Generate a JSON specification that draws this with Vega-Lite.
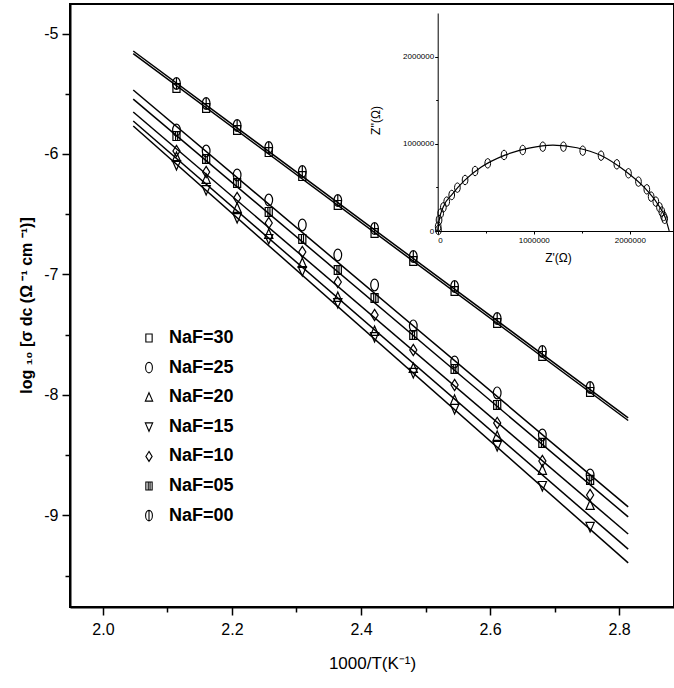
{
  "$schema": "https://vega.github.io/schema/vega-lite/v6.json",
  "width": 604,
  "height": 603,
  "autosize": {"type": "none"},
  "padding": {"left": 70, "top": 4, "right": 0, "bottom": 81},
  "background": "white",
  "config": {
    "font": "Liberation Sans",
    "view": {"stroke": "#000", "strokeWidth": 2},
    "axis": {"grid": false, "domainColor": "#000", "tickColor": "#000", "labelColor": "#000", "titleColor": "#000"}
  },
  "datasets": {
    "pts": [
      {"x": 2.114, "y": -5.415, "series": "NaF=00"}, {"x": 2.160, "y": -5.581, "series": "NaF=00"}, {"x": 2.208, "y": -5.764, "series": "NaF=00"}, {"x": 2.257, "y": -5.947, "series": "NaF=00"}, {"x": 2.309, "y": -6.146, "series": "NaF=00"}, {"x": 2.364, "y": -6.386, "series": "NaF=00"}, {"x": 2.421, "y": -6.619, "series": "NaF=00"}, {"x": 2.481, "y": -6.851, "series": "NaF=00"}, {"x": 2.545, "y": -7.100, "series": "NaF=00"}, {"x": 2.611, "y": -7.366, "series": "NaF=00"}, {"x": 2.681, "y": -7.639, "series": "NaF=00"}, {"x": 2.755, "y": -7.938, "series": "NaF=00"},
      {"x": 2.114, "y": -5.452, "series": "NaF=30"}, {"x": 2.160, "y": -5.618, "series": "NaF=30"}, {"x": 2.208, "y": -5.801, "series": "NaF=30"}, {"x": 2.257, "y": -5.984, "series": "NaF=30"}, {"x": 2.309, "y": -6.183, "series": "NaF=30"}, {"x": 2.364, "y": -6.423, "series": "NaF=30"}, {"x": 2.421, "y": -6.656, "series": "NaF=30"}, {"x": 2.481, "y": -6.888, "series": "NaF=30"}, {"x": 2.545, "y": -7.137, "series": "NaF=30"}, {"x": 2.611, "y": -7.403, "series": "NaF=30"}, {"x": 2.681, "y": -7.676, "series": "NaF=30"}, {"x": 2.755, "y": -7.975, "series": "NaF=30"},
      {"x": 2.114, "y": -5.801, "series": "NaF=25"}, {"x": 2.160, "y": -5.975, "series": "NaF=25"}, {"x": 2.208, "y": -6.174, "series": "NaF=25"}, {"x": 2.257, "y": -6.382, "series": "NaF=25"}, {"x": 2.309, "y": -6.589, "series": "NaF=25"}, {"x": 2.364, "y": -6.838, "series": "NaF=25"}, {"x": 2.421, "y": -7.087, "series": "NaF=25"}, {"x": 2.481, "y": -7.427, "series": "NaF=25"}, {"x": 2.545, "y": -7.726, "series": "NaF=25"}, {"x": 2.611, "y": -7.983, "series": "NaF=25"}, {"x": 2.681, "y": -8.332, "series": "NaF=25"}, {"x": 2.755, "y": -8.664, "series": "NaF=25"},
      {"x": 2.114, "y": -5.851, "series": "NaF=05"}, {"x": 2.160, "y": -6.041, "series": "NaF=05"}, {"x": 2.208, "y": -6.241, "series": "NaF=05"}, {"x": 2.257, "y": -6.481, "series": "NaF=05"}, {"x": 2.309, "y": -6.705, "series": "NaF=05"}, {"x": 2.364, "y": -6.963, "series": "NaF=05"}, {"x": 2.421, "y": -7.195, "series": "NaF=05"}, {"x": 2.481, "y": -7.502, "series": "NaF=05"}, {"x": 2.545, "y": -7.784, "series": "NaF=05"}, {"x": 2.611, "y": -8.083, "series": "NaF=05"}, {"x": 2.681, "y": -8.398, "series": "NaF=05"}, {"x": 2.755, "y": -8.705, "series": "NaF=05"},
      {"x": 2.114, "y": -5.975, "series": "NaF=10"}, {"x": 2.160, "y": -6.149, "series": "NaF=10"}, {"x": 2.208, "y": -6.365, "series": "NaF=10"}, {"x": 2.257, "y": -6.573, "series": "NaF=10"}, {"x": 2.309, "y": -6.813, "series": "NaF=10"}, {"x": 2.364, "y": -7.062, "series": "NaF=10"}, {"x": 2.421, "y": -7.336, "series": "NaF=10"}, {"x": 2.481, "y": -7.627, "series": "NaF=10"}, {"x": 2.545, "y": -7.917, "series": "NaF=10"}, {"x": 2.611, "y": -8.232, "series": "NaF=10"}, {"x": 2.681, "y": -8.548, "series": "NaF=10"}, {"x": 2.755, "y": -8.830, "series": "NaF=10"},
      {"x": 2.114, "y": -6.025, "series": "NaF=20"}, {"x": 2.160, "y": -6.207, "series": "NaF=20"}, {"x": 2.208, "y": -6.448, "series": "NaF=20"}, {"x": 2.257, "y": -6.664, "series": "NaF=20"}, {"x": 2.309, "y": -6.905, "series": "NaF=20"}, {"x": 2.364, "y": -7.187, "series": "NaF=20"}, {"x": 2.421, "y": -7.469, "series": "NaF=20"}, {"x": 2.481, "y": -7.776, "series": "NaF=20"}, {"x": 2.545, "y": -8.041, "series": "NaF=20"}, {"x": 2.611, "y": -8.340, "series": "NaF=20"}, {"x": 2.681, "y": -8.622, "series": "NaF=20"}, {"x": 2.755, "y": -8.913, "series": "NaF=20"},
      {"x": 2.114, "y": -6.091, "series": "NaF=15"}, {"x": 2.160, "y": -6.299, "series": "NaF=15"}, {"x": 2.208, "y": -6.531, "series": "NaF=15"}, {"x": 2.257, "y": -6.705, "series": "NaF=15"}, {"x": 2.309, "y": -6.971, "series": "NaF=15"}, {"x": 2.364, "y": -7.237, "series": "NaF=15"}, {"x": 2.421, "y": -7.519, "series": "NaF=15"}, {"x": 2.481, "y": -7.817, "series": "NaF=15"}, {"x": 2.545, "y": -8.116, "series": "NaF=15"}, {"x": 2.611, "y": -8.423, "series": "NaF=15"}, {"x": 2.681, "y": -8.755, "series": "NaF=15"}, {"x": 2.755, "y": -9.095, "series": "NaF=15"}
    ],
    "fits": [
      {"x": 2.047, "y": -5.145, "series": "NaF=00"}, {"x": 2.814, "y": -8.190, "series": "NaF=00"},
      {"x": 2.047, "y": -5.167, "series": "NaF=30"}, {"x": 2.814, "y": -8.212, "series": "NaF=30"},
      {"x": 2.047, "y": -5.469, "series": "NaF=25"}, {"x": 2.814, "y": -8.929, "series": "NaF=25"},
      {"x": 2.047, "y": -5.544, "series": "NaF=05"}, {"x": 2.814, "y": -9.012, "series": "NaF=05"},
      {"x": 2.047, "y": -5.651, "series": "NaF=10"}, {"x": 2.814, "y": -9.154, "series": "NaF=10"},
      {"x": 2.047, "y": -5.726, "series": "NaF=20"}, {"x": 2.814, "y": -9.280, "series": "NaF=20"},
      {"x": 2.047, "y": -5.768, "series": "NaF=15"}, {"x": 2.814, "y": -9.394, "series": "NaF=15"}
    ],
    "imp": [
      {"zr": 8000, "zi": 12000}, {"zr": 5000, "zi": 50000}, {"zr": 14000, "zi": 126000}, {"zr": 31000, "zi": 203000}, {"zr": 59000, "zi": 272000}, {"zr": 94000, "zi": 337000}, {"zr": 146000, "zi": 413000}, {"zr": 205000, "zi": 497000}, {"zr": 285000, "zi": 585000}, {"zr": 389000, "zi": 688000}, {"zr": 521000, "zi": 776000}, {"zr": 691000, "zi": 872000}, {"zr": 885000, "zi": 929000}, {"zr": 1094000, "zi": 967000}, {"zr": 1309000, "zi": 967000}, {"zr": 1510000, "zi": 921000}, {"zr": 1701000, "zi": 864000}, {"zr": 1865000, "zi": 765000}, {"zr": 1986000, "zi": 662000}, {"zr": 2090000, "zi": 566000}, {"zr": 2177000, "zi": 478000}, {"zr": 2222000, "zi": 394000}, {"zr": 2271000, "zi": 337000}, {"zr": 2309000, "zi": 272000}, {"zr": 2333000, "zi": 222000}, {"zr": 2351000, "zi": 172000}, {"zr": 2363000, "zi": 140000}
    ],
    "impfit": [
      {"zr": 0, "zi": 0}, {"zr": 15000, "zi": 120000}, {"zr": 60000, "zi": 280000}, {"zr": 150000, "zi": 420000}, {"zr": 280000, "zi": 580000}, {"zr": 450000, "zi": 730000}, {"zr": 700000, "zi": 870000}, {"zr": 950000, "zi": 950000}, {"zr": 1200000, "zi": 985000}, {"zr": 1450000, "zi": 955000}, {"zr": 1700000, "zi": 865000}, {"zr": 1950000, "zi": 690000}, {"zr": 2150000, "zi": 500000}, {"zr": 2290000, "zi": 310000}, {"zr": 2370000, "zi": 150000}, {"zr": 2410000, "zi": 0}
    ]
  },
  "layer": [
    {
      "encoding": {
        "x": {
          "field": "x", "type": "quantitative",
          "scale": {"domain": [1.949, 2.885], "nice": false, "zero": false},
          "axis": {
            "orient": "bottom",
            "values": [2.0, 2.1, 2.2, 2.3, 2.4, 2.5, 2.6, 2.7, 2.8],
            "labelExpr": "round(datum.value*10) % 2 == 0 ? format(datum.value, '.1f') : ''",
            "tickSize": {"condition": {"test": "round(datum.value*10) % 2 == 0", "value": 8}, "value": 5},
            "tickWidth": 1.5,
            "domainWidth": 2,
            "labelFontSize": 16,
            "labelPadding": 6,
            "title": "1000/T(K⁻¹)",
            "titleFontSize": 17,
            "titleFontWeight": "normal",
            "titleX": 302,
            "titleY": 56,
            "titleBaseline": "middle",
            "titleAlign": "center"
          }
        },
        "y": {
          "field": "y", "type": "quantitative",
          "scale": {"domain": [-9.76, -4.755], "nice": false, "zero": false},
          "axis": {
            "orient": "left",
            "values": [-9.5, -9, -8.5, -8, -7.5, -7, -6.5, -6, -5.5, -5],
            "labelExpr": "datum.value % 1 == 0 ? '' + datum.value : ''",
            "tickSize": {"condition": {"test": "datum.value % 1 == 0", "value": 8}, "value": 5},
            "tickWidth": 1.5,
            "domainWidth": 2,
            "labelFontSize": 16,
            "labelPadding": 4,
            "title": "log ₁₀ [σ dc (Ω ⁻¹ cm ⁻¹)]",
            "titleFontSize": 16,
            "titleFontWeight": "bold",
            "titleAngle": 270,
            "titleX": -44,
            "titleY": 301,
            "titleBaseline": "middle",
            "titleAlign": "center"
          }
        }
      },
      "layer": [
        {
          "data": {"name": "fits"},
          "mark": {"type": "line", "color": "#000", "strokeWidth": 1.5},
          "encoding": {"detail": {"field": "series"}}
        },
        {
          "data": {"name": "pts"},
          "mark": {"type": "point", "filled": false, "color": "#000", "strokeWidth": 1.2, "size": 140, "opacity": 1},
          "encoding": {
            "shape": {
              "field": "series", "type": "nominal",
              "scale": {
                "domain": ["NaF=30", "NaF=25", "NaF=20", "NaF=15", "NaF=10", "NaF=05", "NaF=00"],
                "range": [
                  "M-0.6,-0.75L0.6,-0.75L0.6,0.75L-0.6,0.75Z",
                  "M0,-1A0.65,1,0,1,1,0,1A0.65,1,0,1,1,0,-1Z",
                  "M0,-0.85L0.7,0.75L-0.7,0.75Z",
                  "M-0.7,-0.75L0.7,-0.75L0,0.85Z",
                  "M0,-0.95L0.6,0L0,0.95L-0.6,0Z",
                  "M-0.6,-0.75L0.6,-0.75L0.6,0.75L-0.6,0.75ZM-0.15,-0.75L-0.15,0.75M0.2,-0.75L0.2,0.75",
                  "M0,-1A0.65,1,0,1,1,0,1A0.65,1,0,1,1,0,-1ZM0,-1L0,1"
                ]
              },
              "legend": {
                "orient": "none",
                "legendX": 70,
                "legendY": 325,
                "title": null,
                "padding": 0,
                "symbolSize": 110,
                "symbolStrokeColor": "#000",
                "symbolStrokeWidth": 1.1,
                "symbolFillColor": "transparent",
                "labelFontSize": 18,
                "labelFontWeight": "bold",
                "labelColor": "#000",
                "labelOffset": 11,
                "rowPadding": 11.6
              }
            }
          }
        }
      ]
    },
    {
      "encoding": {
        "x": {
          "field": "zr", "type": "quantitative",
          "scale": {"domain": [0, 2460000], "range": [367.7, 604], "nice": false, "zero": false},
          "axis": {
            "orient": "bottom",
            "offset": -376,
            "values": [0, 500000, 1000000, 1500000, 2000000],
            "labelExpr": "datum.value % 1000000 == 0 ? '' + datum.value : ''",
            "tickSize": {"condition": {"test": "datum.value % 1000000 == 0", "value": 3}, "value": 2},
            "labelFontSize": 8,
            "labelPadding": 2,
            "domainWidth": 1,
            "title": "Z'(Ω)",
            "titleFontSize": 12,
            "titleFontWeight": "normal",
            "titleX": 488,
            "titleY": 26,
            "titleBaseline": "middle",
            "titleAlign": "center"
          }
        },
        "y": {
          "field": "zi", "type": "quantitative",
          "scale": {"domain": [0, 2500000], "range": [227, 9], "nice": false, "zero": false},
          "axis": {
            "orient": "left",
            "offset": -367.7,
            "values": [0, 500000, 1000000, 1500000, 2000000],
            "labelExpr": "datum.value % 1000000 == 0 ? '' + datum.value : ''",
            "tickSize": {"condition": {"test": "datum.value % 1000000 == 0", "value": 3}, "value": 2},
            "labelFontSize": 8,
            "labelPadding": 1,
            "domainWidth": 1,
            "title": "Z''(Ω)",
            "titleFontSize": 12,
            "titleFontWeight": "normal",
            "titleAngle": 270,
            "titleX": -62,
            "titleY": 116,
            "titleBaseline": "middle",
            "titleAlign": "center"
          }
        }
      },
      "layer": [
        {
          "data": {"values": [{}]},
          "mark": {"type": "rect", "fill": "white", "fillOpacity": 0, "stroke": "#000", "strokeWidth": 1},
          "encoding": {
            "x": {"datum": 0, "type": "quantitative"},
            "x2": {"datum": 2460000},
            "y": {"datum": 0, "type": "quantitative"},
            "y2": {"datum": 2500000}
          }
        },
        {
          "data": {"name": "impfit"},
          "mark": {"type": "line", "color": "#000", "strokeWidth": 1.2, "interpolate": "monotone"}
        },
        {
          "data": {"name": "imp"},
          "mark": {"type": "point", "filled": false, "color": "#000", "strokeWidth": 1, "size": 90, "opacity": 1, "shape": "M0,-1A0.6,1,0,1,1,0,1A0.6,1,0,1,1,0,-1Z"}
        }
      ]
    }
  ],
  "resolve": {
    "scale": {"x": "independent", "y": "independent"},
    "axis": {"x": "independent", "y": "independent"}
  }
}
